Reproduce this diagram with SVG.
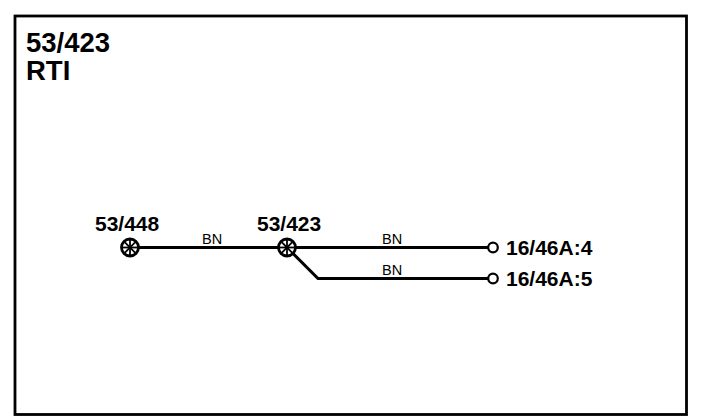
<svg xmlns="http://www.w3.org/2000/svg" width="704" height="418" viewBox="0 0 704 418">
<style>
.t{font-family:"Liberation Sans",Arial,sans-serif;font-weight:bold;fill:#000}
.w{font-family:"Liberation Sans",Arial,sans-serif;font-size:14.5px;fill:#000}
.ln{stroke:#000;stroke-width:3;fill:none}
.sp{stroke:#000;stroke-width:1.8}
</style>
<defs>
<g id="splice">
<circle r="8.5" fill="#fff" stroke="#000" stroke-width="2.8"/>
<line x1="-7.5" y1="0" x2="7.5" y2="0" class="sp"/>
<line x1="0" y1="-7.5" x2="0" y2="7.5" class="sp"/>
<line x1="-5.3" y1="-5.3" x2="5.3" y2="5.3" class="sp"/>
<line x1="-5.3" y1="5.3" x2="5.3" y2="-5.3" class="sp"/>
</g>
</defs>
<rect x="0" y="0" width="704" height="418" fill="#fff"/>
<rect x="15" y="16" width="671.5" height="398.5" fill="none" stroke="#000" stroke-width="2.8"/>
<g id="title">
<text class="t" x="26" y="52" font-size="27.5">53/423</text>
<text class="t" x="26" y="80" font-size="27.5">RTI</text>
</g>
<g id="connectors">
<line x1="130" y1="247.5" x2="488" y2="247.5" class="ln"/>
<polyline points="287,247.5 318,278.5 488,278.5" class="ln"/>
<text class="w" x="202" y="244">BN</text>
<text class="w" x="382" y="244">BN</text>
<text class="w" x="382" y="275">BN</text>
</g>
<g id="node-53-448">
<use href="#splice" x="130" y="247.5"/>
<text class="t" x="95" y="231" font-size="21">53/448</text>
</g>
<g id="node-53-423">
<use href="#splice" x="287" y="247.5"/>
<text class="t" x="257" y="231" font-size="21">53/423</text>
</g>
<g id="node-16-46A-4">
<circle cx="493" cy="247.5" r="4.8" fill="#fff" stroke="#000" stroke-width="2.2"/>
<text class="t" x="506" y="255" font-size="21">16/46A:4</text>
</g>
<g id="node-16-46A-5">
<circle cx="493" cy="278.5" r="4.8" fill="#fff" stroke="#000" stroke-width="2.2"/>
<text class="t" x="506" y="286" font-size="21">16/46A:5</text>
</g>
</svg>
